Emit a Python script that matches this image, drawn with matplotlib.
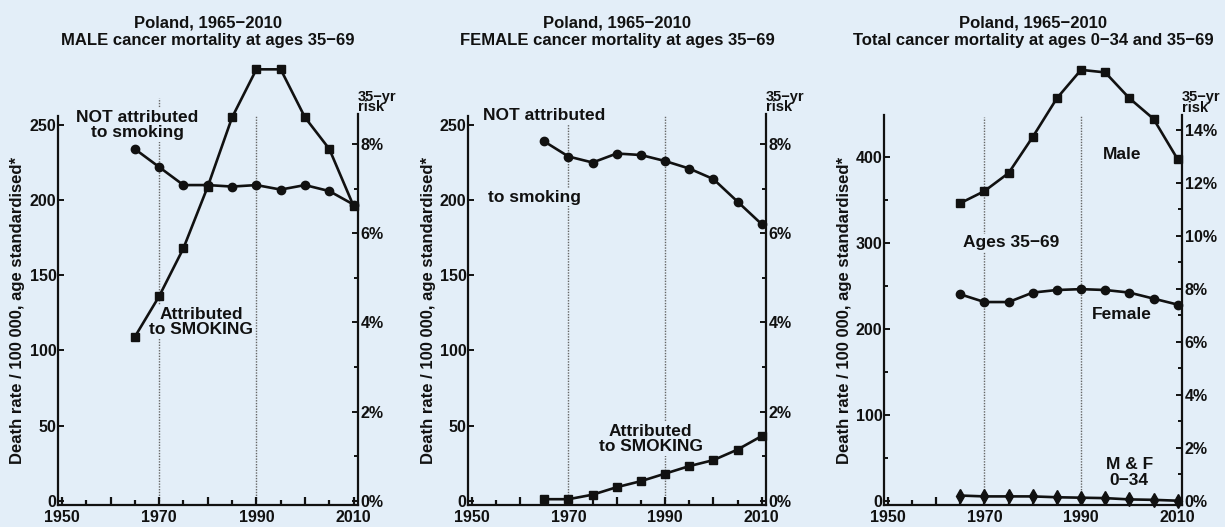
import matplotlib.pyplot as plt
from matplotlib.ticker import MultipleLocator, FixedLocator

# Data (deaths / 100 000, age standardised)
years = [1965, 1970, 1975, 1980, 1985, 1990, 1995, 2000, 2005, 2010]

male_not_smoking = [234, 222, 210, 210, 209, 210, 207, 210, 206, 197]
male_smoking = [109, 136, 168, 209, 255, 287, 287, 255, 234, 196]

female_not_smoking = [239, 229, 225, 231, 230, 226, 221, 214, 199, 184]
female_smoking = [1, 1, 4, 9, 13, 18, 23, 27, 34, 43]

total_male = [346, 360, 381, 423, 468, 501, 498, 468, 444, 397]
total_female = [240, 231, 231, 242, 245, 246, 245, 242, 235, 228]
total_young = [6, 5, 5, 5, 4, 3.5, 3, 1.5, 1, 0]

titles = ["Poland, 1965\u22122010\nMALE cancer mortality at ages 35\u221269",
          "Poland, 1965\u22122010\nFEMALE cancer mortality at ages 35\u221269",
          "Poland, 1965\u22122010\nTotal cancer mortality at ages 0\u221234 and 35\u221269"]
ylabel = "Death rate / 100 000, age standardised*"

BG = "#e3eef8"
INK = "#111111"
plt.rcParams['font.family'] = ['Liberation Sans', 'DejaVu Sans']
plt.rcParams['font.weight'] = 'bold'

W, H = 1225, 527
fig = plt.figure(figsize=(W / 100, H / 100), dpi=100, facecolor=BG)

# axes boxes in pixels: left spine x, right spine x
boxes = [(58, 358), (468, 766), (884, 1182)]
bottom_px = 504.7
height_px = 455


def make_axes(i, ymin, ymax, pct_unit, left_major, left_minor, left_top, pct_max, pct_major):
    x0, x1 = boxes[i]
    ax = fig.add_axes([x0 / W, 1 - bottom_px / H, (x1 - x0) / W, height_px / H])
    ax.set_facecolor('none')
    ax.set_xlim(1949.2, 2010.9)
    ax.set_ylim(ymin, ymax)
    for s in ['top', 'right']:
        ax.spines[s].set_visible(False)
    for s in ['left', 'bottom']:
        ax.spines[s].set_linewidth(1.6)
        ax.spines[s].set_color(INK)
    ax.spines['left'].set_bounds(ymin, left_top)
    ax.spines['bottom'].set_bounds(1949.2, 2010.9)

    ax.xaxis.set_major_locator(MultipleLocator(10))
    ax.xaxis.set_minor_locator(MultipleLocator(5))
    ax.xaxis.set_major_formatter(plt.FuncFormatter(
        lambda v, p: str(int(round(v))) if int(round(v)) in (1950, 1970, 1990, 2010) else ""))
    ax.tick_params(axis='x', which='major', direction='in', length=6, width=1.6,
                   labelsize=11.5, pad=4, colors=INK)
    ax.tick_params(axis='x', which='minor', direction='in', length=3.5, width=1.6, colors=INK)

    ax.yaxis.set_major_locator(FixedLocator(left_major))
    ax.yaxis.set_minor_locator(FixedLocator(left_minor))
    ax.tick_params(axis='y', which='major', direction='in', length=4, width=1.4,
                   labelsize=11.5, pad=1, colors=INK)
    ax.tick_params(axis='y', which='minor', direction='in', length=3, width=1.4, colors=INK)

    # right axis: 35-yr risk
    ax2 = ax.twinx()
    ax2.set_ylim(ymin / pct_unit, ymax / pct_unit)
    for s in ['top', 'left', 'bottom']:
        ax2.spines[s].set_visible(False)
    ax2.spines['right'].set_linewidth(1.6)
    ax2.spines['right'].set_color(INK)
    ax2.spines['right'].set_bounds(ymin / pct_unit, pct_max)
    ax2.yaxis.set_major_locator(FixedLocator(pct_major))
    ax2.yaxis.set_minor_locator(FixedLocator([p + 1 for p in pct_major if p + 1 < pct_max]))
    ax2.yaxis.set_major_formatter(plt.FuncFormatter(lambda v, p: "%d%%" % round(v)))
    ax2.tick_params(axis='y', which='major', direction='in', length=4, width=1.4,
                    labelsize=11.5, pad=2, colors=INK)
    ax2.tick_params(axis='y', which='minor', direction='in', length=3, width=1.4, colors=INK)
    ax2.text(1.0, pct_max, "35\u2212yr\nrisk", transform=ax2.get_yaxis_transform(),
             ha='left', va='bottom', fontsize=10.5, fontweight='bold', color=INK,
             linespacing=0.72)

    # titles and y labels
    xc = (x0 + x1) / 2 / W
    fig.text(xc, 1 - 32 / H, titles[i], ha='center', va='center', fontsize=12,
             fontweight='bold', color=INK, linespacing=1.2)
    fig.text((x0 - 40) / W, 1 - 311 / H, ylabel, rotation=90, ha='center', va='center',
             fontsize=12, fontweight='bold', color=INK)
    return ax


def vlines(ax, tops):
    for x, top in zip([1970, 1990], tops):
        ax.plot([x, x], [0, top], ls=(0, (1, 1)), color='#666666', lw=1.0, zorder=1)


def series(ax, y, marker, ms):
    ax.plot(years, y, color=INK, lw=1.9, marker=marker, ms=ms, mfc=INK, mec=INK,
            clip_on=False, zorder=3)


def label(ax, x, y, s):
    ax.text(x, y, s, ha='center', va='center', fontsize=12.5, fontweight='bold', color=INK,
            zorder=2, linespacing=1.05,
            bbox=dict(boxstyle='square,pad=0.08', fc=BG, ec='none'))


# Panel 1: male
scale1 = 1.503
ymin1 = -4 / scale1
ymax1 = (height_px - 4) / scale1
ax = make_axes(0, ymin1, ymax1, 29.67, [0, 50, 100, 150, 200, 250], [], 256,
               257 / 29.67, [0, 2, 4, 6, 8])
vlines(ax, [268, 256])
series(ax, male_not_smoking, 'o', 6)
series(ax, male_smoking, 's', 6)
label(ax, 1965.5, 250, "NOT attributed\nto smoking")
label(ax, 1978.6, 119, "Attributed\nto SMOKING")

# Panel 2: female
ax = make_axes(1, ymin1, ymax1, 29.67, [0, 50, 100, 150, 200, 250], [], 256,
               257 / 29.67, [0, 2, 4, 6, 8])
vlines(ax, [252, 256])
series(ax, female_not_smoking, 'o', 6)
series(ax, female_smoking, 's', 6)
label(ax, 1965, 256, "NOT attributed")
label(ax, 1963, 202, "to smoking")
label(ax, 1987, 41, "Attributed\nto SMOKING")

# Panel 3: total
scale3 = 0.86
ax = make_axes(2, -4 / scale3, (height_px - 4) / scale3, 30.8,
               [0, 100, 200, 300, 400], [50, 150, 250, 350], 448,
               448 / 30.8, [0, 2, 4, 6, 8, 10, 12, 14])
vlines(ax, [446, 448])
series(ax, total_male, 's', 6)
series(ax, total_female, 'o', 6)
series(ax, total_young, 'd', 7)
label(ax, 1998.5, 402, "Male")
label(ax, 1975.5, 300, "Ages 35\u221269")
label(ax, 1998.5, 217, "Female")
label(ax, 2000, 33, "M & F\n0\u221234")

fig.savefig("out.png", dpi=100, facecolor=BG)
